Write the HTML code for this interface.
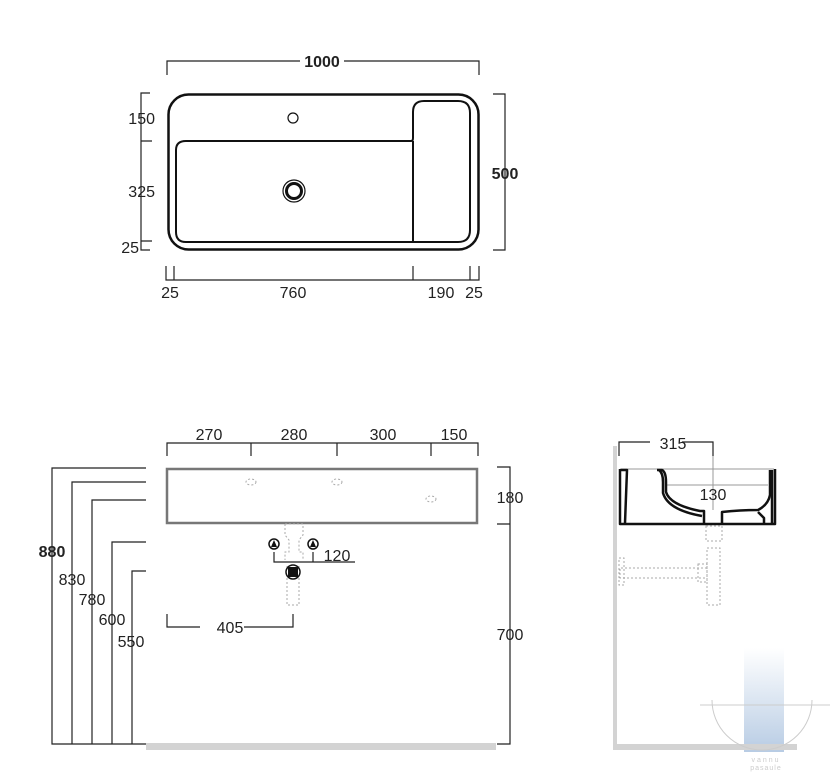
<!DOCTYPE html>
<html><head><style>body{margin:0;background:#fff}svg{display:block}text{font-family:"Liberation Sans",sans-serif;font-size:16px;fill:#222}</style></head><body>
<svg width="832" height="777" viewBox="0 0 832 777">
<defs><linearGradient id="g" x1="0" y1="0" x2="0" y2="1"><stop offset="0" stop-color="#fff"/><stop offset="1" stop-color="#b8cce4"/></linearGradient></defs>
<g fill="none" stroke="#222" stroke-width="1.2">
<path d="M167 75V61H479V75"/>
<path d="M150 93H141V250H150M141 141H152M141 241H152"/>
<path d="M493 94H505V250H493"/>
<path d="M166 266V280H479V266M174 266V280M413 266V280M470 266V280"/>
</g>
<rect x="300" y="52" width="44" height="16" fill="#fff"/>
<g fill="none" stroke="#111">
<rect x="168.5" y="94.5" width="310" height="155" rx="20" stroke-width="2.5"/>
<path d="M413 242H186Q176 242 176 232V150Q176 141 186 141H411Q413 141 413 138V112Q413 101 424 101H458Q470 101 470 113V230Q470 242 458 242H413V141" stroke-width="2"/>
<circle cx="293" cy="118" r="5" stroke-width="1.2"/>
<circle cx="294" cy="191" r="11" stroke-width="1.2"/>
<circle cx="294" cy="191" r="7.5" stroke-width="3"/>
</g>
<text x="322" y="67" text-anchor="middle" font-weight="bold">1000</text>
<text x="155" y="124" text-anchor="end">150</text>
<text x="155" y="197" text-anchor="end">325</text>
<text x="139" y="253" text-anchor="end">25</text>
<text x="505" y="179" text-anchor="middle" font-weight="bold">500</text>
<text x="170" y="298" text-anchor="middle">25</text>
<text x="293" y="298" text-anchor="middle">760</text>
<text x="441" y="298" text-anchor="middle">190</text>
<text x="474" y="298" text-anchor="middle">25</text>

<g fill="none" stroke="#222" stroke-width="1.2">
<path d="M167 456V443H478V456M251 443V456M337 443V456M431 443V456"/>
<path d="M146 468H52V744H146M146 482H72V744M146 500H92V744M146 542H112V744M146 571H132V744"/>
<path d="M497 467H510V744H497M497 524H510"/>
<path d="M274 552V562H355M313 552V562"/>
<path d="M167 614V627H293V614"/>
</g>
<rect x="167" y="469" width="310" height="54" fill="none" stroke="#777" stroke-width="2.5"/>
<g fill="none" stroke="#aaa" stroke-dasharray="2 2">
<ellipse cx="251" cy="482" rx="5" ry="3"/><ellipse cx="337" cy="482" rx="5" ry="3"/><ellipse cx="431" cy="499" rx="5" ry="3"/>
<path d="M285 524H303V535L299 540V552H303V560M285 524V535L289 540V552H285V560M287 566V605H299V566"/>
</g>
<circle cx="274" cy="544" r="5" fill="#fff" stroke="#111" stroke-width="1.5"/><path d="M271 547L274 540L277 547Z" fill="#111"/>
<circle cx="313" cy="544" r="5" fill="#fff" stroke="#111" stroke-width="1.5"/><path d="M310 547L313 540L316 547Z" fill="#111"/>
<circle cx="293" cy="572" r="7" fill="#fff" stroke="#111" stroke-width="1.5"/><rect x="288" y="567" width="10" height="10" fill="#111"/>
<rect x="146" y="743" width="350" height="7" fill="#d3d3d3"/>
<rect x="200" y="620" width="44" height="16" fill="#fff"/>
<text x="209" y="440" text-anchor="middle">270</text>
<text x="294" y="440" text-anchor="middle">280</text>
<text x="383" y="440" text-anchor="middle">300</text>
<text x="454" y="440" text-anchor="middle">150</text>
<text x="52" y="557" text-anchor="middle" font-weight="bold">880</text>
<text x="72" y="585" text-anchor="middle">830</text>
<text x="92" y="605" text-anchor="middle">780</text>
<text x="112" y="625" text-anchor="middle">600</text>
<text x="131" y="647" text-anchor="middle">550</text>
<text x="510" y="503" text-anchor="middle">180</text>
<text x="510" y="640" text-anchor="middle">700</text>
<text x="337" y="561" text-anchor="middle">120</text>
<text x="230" y="633" text-anchor="middle">405</text>

<!-- side view -->
<rect x="744" y="648" width="40" height="104" fill="url(#g)"/>
<rect x="613" y="446" width="4" height="304" fill="#d3d3d3"/>
<rect x="613" y="744" width="184" height="6" fill="#d3d3d3"/>
<g fill="none" stroke="#ccc"><path d="M700 705H830M712 700a50 50 0 0 0 100 0"/></g>
<g fill="none" stroke="#222" stroke-width="1.2"><path d="M619 456V442H713V456"/></g>
<rect x="650" y="434" width="32" height="16" fill="#fff"/>
<g fill="none" stroke="#999" stroke-width="1"><path d="M620 469H774M713 456V510M666 485H768"/></g>
<g fill="none" stroke="#111" stroke-width="2.5" stroke-linejoin="round">
<path d="M620 469V524H775V469"/>
<path d="M621 470H627L625 523"/>
<path d="M657 470H662Q666 472 666 482V492Q670 505 700 511H704V524"/>
<path d="M659 470Q663 473 663 482V493Q668 510 702 516"/>
<path d="M722 524V512Q740 510 758 510Q768 505 770 495V470"/>
<path d="M764 524V518L758 512"/>
<path d="M772 470V524"/>
</g>
<g fill="none" stroke="#aaa" stroke-dasharray="2 2"><path d="M706 526H722V541H706ZM707 548H720V605H707ZM707 568H620V578H707M698 564H707V582H698ZM619 558H624V585H619Z"/></g>
<text x="673" y="449" text-anchor="middle">315</text>
<text x="713" y="500" text-anchor="middle">130</text>
<text x="766" y="762" text-anchor="middle" style="font-size:7px;fill:#ccc;letter-spacing:2px">vannu</text>
<text x="766" y="770" text-anchor="middle" style="font-size:7px;fill:#ccc;letter-spacing:1px">pasaule</text>
</svg>
</body></html>
